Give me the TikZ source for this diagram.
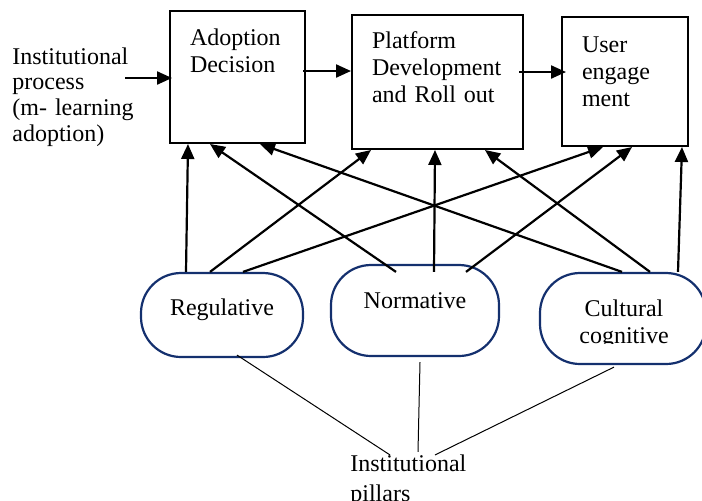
\documentclass[tikz,border=0pt]{standalone}
\usepackage{fontspec}
\setmainfont{Liberation Serif}
\usepackage{tikz}
\usetikzlibrary{calc}
\usetikzlibrary{arrows.meta}
\definecolor{pillarblue}{HTML}{14306E}
\tikzset{%
  stage/.style={draw, line width=1pt, align=left, inner xsep=10pt, inner ysep=8pt,
    text height=9pt, font=\fontsize{12}{13.5}\selectfont}}
\tikzset{pillar/.style={draw=pillarblue, line width=1.1pt, rounded corners=20pt,
    align=center, font=\fontsize{12}{13.5}\selectfont}}
\tikzset{flow/.style={-{Triangle[length=7.5pt,width=6.5pt]}, line width=1.1pt}}
\tikzset{tie/.style={line width=0.5pt}}

\begin{document}
\begin{tikzpicture}[x=0.5pt, y=-0.5pt]
\useasboundingbox (0,0) rectangle (702,500);
\node[stage, text width=47.5pt, text depth=41pt] (adopt) at (237.5,77) {Adoption\\Decision};
\node[stage, text width=65.5pt, text height=8.5pt, text depth=42.5pt] (platform) at (437.5,82) {Platform\\Development\\and Roll out};
\node[stage, text width=43pt, text height=9.5pt, text depth=39pt] (user) at (625,81.5) {User\\engage\\ment};
\node[anchor=base west, inner sep=0, align=left, text width=65pt, font=\fontsize{12}{12.9}\selectfont] (process) at (12,64) {Institutional\\process\\(m- learning\\adoption)};
\coordinate (entry) at (125,78);
\draw[flow] (entry) -- ($(adopt.west)+(3,1)$);
\draw[flow] ($(adopt.east)+(-3,-6)$) -- ($(platform.west)+(0,-11)$);
\draw[flow] ($(platform.east)+(-5,-10)$) -- ($(user.west)+(5,-9.5)$);
\node[pillar, minimum width=81pt, minimum height=42pt, text height=6pt, text depth=6pt] (reg) at (222,315) {Regulative};
\node[pillar, minimum width=84pt, minimum height=45.5pt, text height=5pt, text depth=7.5pt] (norm) at (415,310.5) {Normative};
\node[pillar, minimum width=83pt, minimum height=45.5pt] (cult) at (623,318.5) {};
\begin{scope}
\clip (540,250) rectangle (702,343.5);
\node[anchor=base, inner sep=0, text width=70pt, align=center, font=\fontsize{12}{13.5}\selectfont] (cultlabel) at (624,316) {Cultural\\cognitive};
\end{scope}
\draw[flow] ($(reg.north)+(-36,0)$) -- ($(adopt.south)+(-49.5,0)$);
\draw[flow] ($(reg.north)+(-12,0)$) -- ($(platform.south)+(-66.5,0)$);
\draw[flow] ($(reg.north)+(21,0)$) -- ($(user.south)+(-22,0)$);
\draw[flow] ($(norm.north)+(-19,8)$) -- ($(adopt.south)+(-27.5,0)$);
\draw[flow] ($(norm.north)+(19,8)$) -- ($(platform.south)+(-2.5,0)$);
\draw[flow] ($(norm.north)+(51,8)$) -- ($(user.south)+(7,0)$);
\draw[flow] ($(cult.north)+(-1,0)$) -- ($(adopt.south)+(22.5,0)$);
\draw[flow] ($(cult.north)+(27,0)$) -- ($(platform.south)+(47.5,0)$);
\draw[flow] ($(cult.north)+(55,0)$) -- ($(user.south)+(57,0)$);
\node[anchor=base west, inner sep=0, text width=66pt, align=left, font=\fontsize{12}{15}\selectfont] (pil) at (350,471) {Institutional\\pillars};
\draw[tie] ($(reg.south)+(15,-3)$) -- ($(pil.north west)+(40,1)$);
\draw[tie] ($(norm.south)+(5,5)$) -- ($(pil.north west)+(68,-2)$);
\draw[tie] ($(cult.south)+(-9,2)$) -- ($(pil.north west)+(85,1)$);
\end{tikzpicture}
\end{document}
